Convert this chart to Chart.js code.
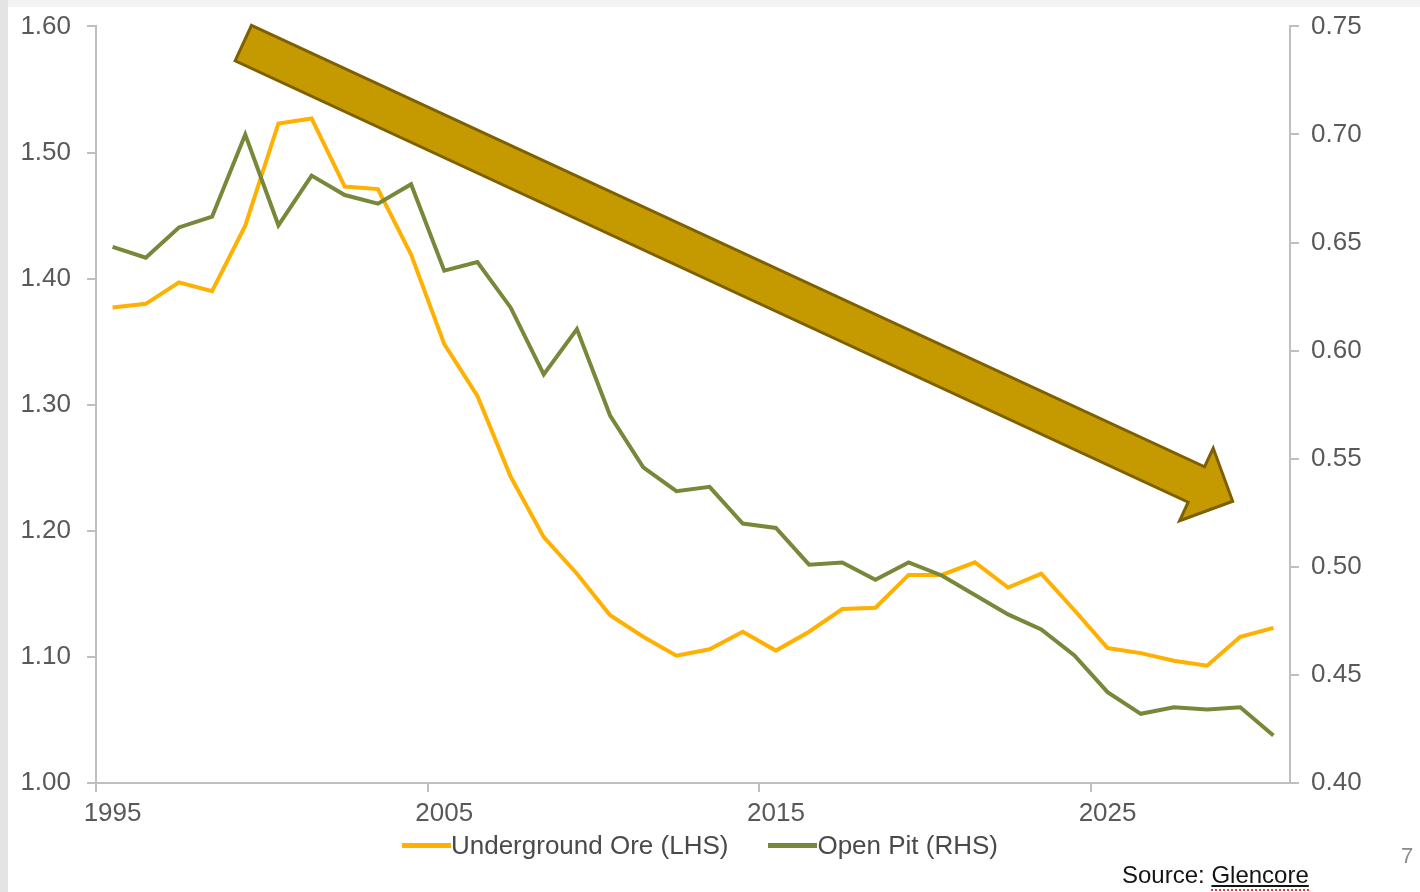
<!DOCTYPE html>
<html>
<head>
<meta charset="utf-8">
<title>Copper head grades</title>
<script src="https://cdn.jsdelivr.net/npm/chart.js@4.4.1/dist/chart.umd.min.js"></script>
<style>
  html, body { margin: 0; padding: 0; background: #fff; }
  body { width: 1420px; height: 892px; position: relative; overflow: hidden;
         font-family: "Liberation Sans", Arial, sans-serif; }
  .edge-top  { position: absolute; left: 0; top: 0; width: 1420px; height: 7px; background: #f2f2f2; }
  .edge-left { position: absolute; left: 0; top: 0; width: 8px; height: 892px; background: #e4e4e4; }
  #wrap { position: absolute; left: 0; top: 0; width: 1420px; height: 892px; }
  #legend { position: absolute; left: 0; top: 829px; width: 1400px; display: flex;
            justify-content: center; gap: 40px; }
  .key { display: flex; align-items: center; font-size: 26px; line-height: 32px; color: #4a4a4a; }
  .key i { display: inline-block; width: 49px; height: 5px; }
  #source { position: absolute; left: 1122px; top: 861px; font-size: 24px; color: #141414; }
  #source span { text-decoration: underline; text-underline-offset: 2px;
                 border-bottom: 2px dotted #e23b3b; padding-bottom: 1px; }
  #page { position: absolute; left: 1401px; top: 843px; font-size: 22px; color: #8a8a8a; }
</style>
</head>
<body>
<div class="edge-top"></div>
<div class="edge-left"></div>
<div id="wrap"><canvas id="grades" width="1420" height="892"></canvas></div>
<div id="legend"></div>
<div id="source">Source: <span>Glencore</span></div>
<div id="page">7</div>

<script>
// ── DATA ─────────────────────────────────────
const years = ['1995','1996','1997','1998','1999','2000','2001','2002','2003','2004',
               '2005','2006','2007','2008','2009','2010','2011','2012','2013','2014',
               '2015','2016','2017','2018','2019','2020','2021','2022','2023','2024',
               '2025','2026','2027','2028','2029','2030'];

// underground ore grade, left axis
const undergroundOre = [1.377, 1.380, 1.397, 1.390, 1.442, 1.523, 1.527, 1.473, 1.471, 1.419,
                        1.348, 1.307, 1.243, 1.195, 1.166, 1.133, 1.116, 1.101, 1.106, 1.120,
                        1.105, 1.120, 1.138, 1.139, 1.165, 1.165, 1.175, 1.155, 1.166, 1.137,
                        1.107, 1.103, 1.097, 1.093, 1.116, 1.123];

// open pit grade, right axis
const openPit = [0.648, 0.643, 0.657, 0.662, 0.700, 0.658, 0.681, 0.672, 0.668, 0.677,
                 0.637, 0.641, 0.620, 0.589, 0.610, 0.570, 0.546, 0.535, 0.537, 0.520,
                 0.518, 0.501, 0.502, 0.494, 0.502, 0.496, 0.487, 0.478, 0.471, 0.459,
                 0.442, 0.432, 0.435, 0.434, 0.435, 0.422];

const ORANGE = '#ffb000';
const GREEN  = '#77883b';
const AXIS   = '#bfbfbf';
const INK    = '#595959';
const TICK_FONT = { family: '"Liberation Sans", Arial, sans-serif', size: 26 };
// tighter line height on the value axes so the top label doesn't push the plot down
const VALUE_FONT = { family: '"Liberation Sans", Arial, sans-serif', size: 26, lineHeight: 0.8 };

// big downward trend arrow, in fractions of the plot area
const ARROW = { from: [0.1234, 0.0220], to: [0.9520, 0.6276], shaft: 39, headLen: 40, headHalf: 40,
                fill: '#c49a00', line: '#7f6000' };

// ── ARROW PLUGIN ─────────────────────────────
const trendArrow = {
  id: 'trendArrow',
  afterDatasetsDraw(chart) {
    const { ctx, chartArea: a } = chart;
    const w = a.right - a.left, h = a.bottom - a.top;
    const x0 = a.left + ARROW.from[0] * w, y0 = a.top + ARROW.from[1] * h;
    const x1 = a.left + ARROW.to[0] * w,   y1 = a.top + ARROW.to[1] * h;
    const len = Math.hypot(x1 - x0, y1 - y0);
    const hw = ARROW.shaft / 2, hl = ARROW.headLen, hh = ARROW.headHalf;
    ctx.save();
    ctx.translate(x0, y0);
    ctx.rotate(Math.atan2(y1 - y0, x1 - x0));
    ctx.beginPath();
    ctx.moveTo(0, -hw);
    ctx.lineTo(len - hl, -hw);
    ctx.lineTo(len - hl, -hh);
    ctx.lineTo(len, 0);
    ctx.lineTo(len - hl, hh);
    ctx.lineTo(len - hl, hw);
    ctx.lineTo(0, hw);
    ctx.closePath();
    ctx.fillStyle = ARROW.fill;
    ctx.fill();
    ctx.lineWidth = 3;
    ctx.lineJoin = 'miter';
    ctx.strokeStyle = ARROW.line;
    ctx.stroke();
    ctx.restore();
  }
};

// ── CHART ────────────────────────────────────
const everyTenth = c => (c.index % 10 === 0 ? AXIS : 'rgba(0,0,0,0)');

const chart = new Chart(document.getElementById('grades'), {
  type: 'line',
  data: {
    labels: years,
    datasets: [
      { label: 'Underground Ore (LHS)', data: undergroundOre, yAxisID: 'y',
        borderColor: ORANGE, backgroundColor: ORANGE, order: 1 },
      { label: 'Open Pit (RHS)', data: openPit, yAxisID: 'y1',
        borderColor: GREEN, backgroundColor: GREEN, order: 0 }
    ]
  },
  options: {
    responsive: false,
    animation: false,
    layout: { padding: { top: 23, bottom: 59, left: 0, right: 0 } },
    elements: {
      point: { radius: 0, hoverRadius: 0 },
      line: { borderWidth: 4, tension: 0, fill: false }
    },
    plugins: { legend: { display: false }, tooltip: { enabled: false } },
    scales: {
      x: {
        offset: true,
        grid: { offset: true, drawOnChartArea: false, tickLength: 9, lineWidth: 2,
                color: everyTenth, tickColor: everyTenth },
        border: { color: AXIS, width: 2 },
        ticks: { autoSkip: false, maxRotation: 0, padding: 6, color: INK, font: TICK_FONT,
                 callback: (v, i) => (i % 10 === 0 ? years[i] : '') },
        afterFit: s => { s.height = 50; }
      },
      y: {
        position: 'left', min: 1.0, max: 1.6,
        grid: { drawOnChartArea: false, tickLength: 9, lineWidth: 2, color: AXIS, tickColor: AXIS },
        border: { color: AXIS, width: 2 },
        ticks: { stepSize: 0.1, padding: 16, color: INK, font: VALUE_FONT,
                 callback: v => v.toFixed(2) },
        afterFit: s => { s.width = 96; }
      },
      y1: {
        position: 'right', min: 0.4, max: 0.75,
        grid: { drawOnChartArea: false, tickLength: 9, lineWidth: 2, color: AXIS, tickColor: AXIS },
        border: { color: AXIS, width: 2 },
        ticks: { stepSize: 0.05, padding: 12, color: INK, font: VALUE_FONT,
                 callback: v => v.toFixed(2) },
        afterFit: s => { s.width = 130; }
      }
    }
  },
  plugins: [trendArrow]
});

// ── LEGEND ───────────────────────────────────
document.getElementById('legend').innerHTML = chart.data.datasets.map(d => `
  <div class="key"><i style="background:${d.borderColor}"></i>${d.label}</div>
`).join('');
</script>
</body>
</html>
